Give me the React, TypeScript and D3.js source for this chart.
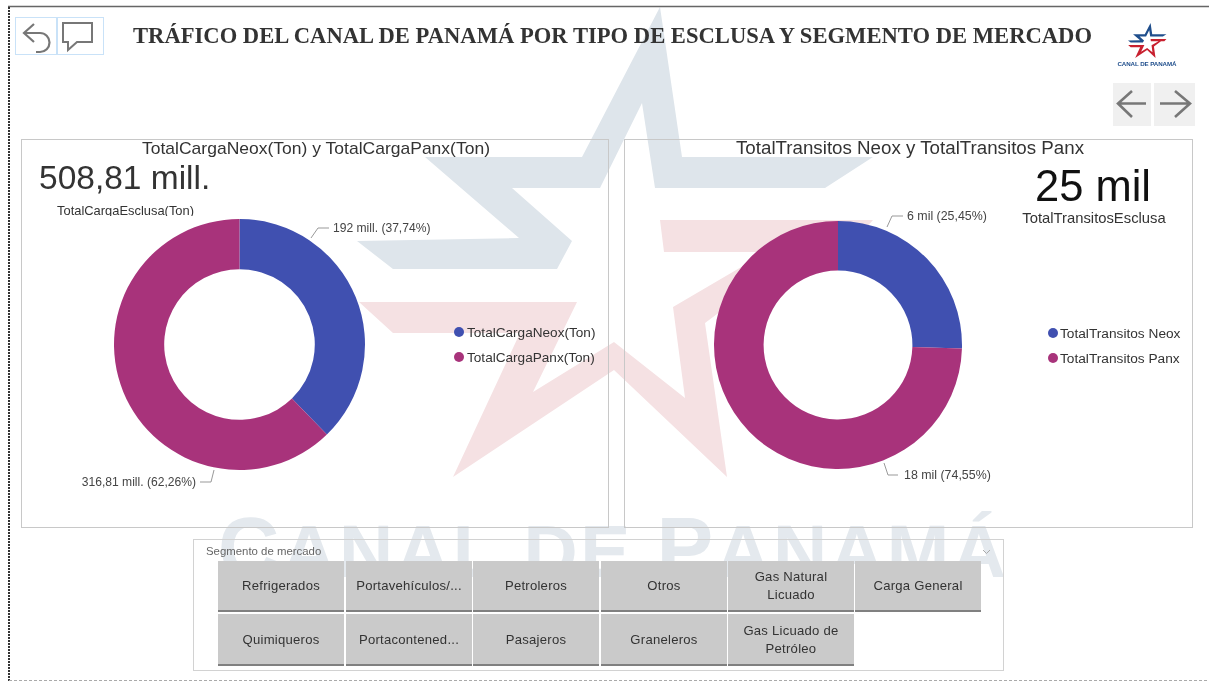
import React from "react";
import * as d3 from "d3";

const TITLE = "TRÁFICO DEL CANAL DE PANAMÁ POR TIPO DE ESCLUSA Y SEGMENTO DE MERCADO";
const cargaSeries = ["TotalCargaNeox(Ton)", "TotalCargaPanx(Ton)"];
const cargaPercent = [37.74, 62.26];
const cargaLabels = ["192 mill. (37,74%)", "316,81 mill. (62,26%)"];
const transitoSeries = ["TotalTransitos Neox", "TotalTransitos Panx"];
const transitoPercent = [25.45, 74.55];
const transitoLabels = ["6 mil (25,45%)", "18 mil (74,55%)"];
const segmentRow1 = ["Refrigerados", "Portavehículos/...", "Petroleros", "Otros", "Gas Natural|Licuado", "Carga General"];
const segmentRow2 = ["Quimiqueros", "Portacontened...", "Pasajeros", "Graneleros", "Gas Licuado de|Petróleo"];
const colors = ["#4050b0", "#a8337b"];

const starBlue: [number, number][] = [[660,7],[682,157],[873,157],[825,188],[655,188],[642,103],[600,188],[512,188],[572,241],[557,269],[393,269],[357,241],[519,238],[425,157],[582,157]];
const starRed: [number, number][] = [[660,220],[873,220],[845,252],[800,252],[705,323],[727,477],[614,370],[453,477],[520,333],[393,333],[359,302],[577,302],[533,392],[614,342],[685,398],[673,307],[767,252],[664,252]];

const SANS = "'Liberation Sans', Arial, sans-serif";
const SERIF = "'Liberation Serif', 'Times New Roman', serif";

const poly = (p: [number, number][]) => p.map(d => d.join(",")).join(" ");

function Donut({ cx, cy, r, values }: { cx: number; cy: number; r: number; values: number[] }) {
  const pie = d3.pie<number>().sort(null)(values);
  const arc = d3.arc<d3.PieArcDatum<number>>().innerRadius(r * 0.6).outerRadius(r);
  return (
    <g transform={`translate(${cx},${cy})`}>
      {pie.map((d, i) => <path key={i} d={arc(d) as string} fill={colors[i]} />)}
    </g>
  );
}

function Legend({ x, ys, tx, names, size }: { x: number; ys: number[]; tx: number; names: string[]; size: number }) {
  return (
    <g>
      {names.map((n, i) => (
        <g key={n}>
          <circle cx={x} cy={ys[i]} r={5} fill={colors[i]} />
          <text x={tx} y={ys[i] + 4.5} fontSize={size} fontFamily={SANS} fill="#333">{n}</text>
        </g>
      ))}
    </g>
  );
}

function Leader({ pts, label, x, y, size, anchor = "start" }: { pts: [number, number][]; label: string; x: number; y: number; size: number; anchor?: string }) {
  return (
    <g>
      <polyline points={poly(pts)} fill="none" stroke="#999" strokeWidth={1} />
      <text x={x} y={y + 4} fontSize={size} fontFamily={SANS} fill="#444" textAnchor={anchor as any}>{label}</text>
    </g>
  );
}

function Slicer() {
  const colX = [218, 346, 473, 601, 728, 855];
  const w = 126;
  const rows: [string[], number, number][] = [[segmentRow1, 561, 51], [segmentRow2, 614, 52]];
  return (
    <g>
      <rect x={193.5} y={539.5} width={810} height={131} fill="none" stroke="#d2d2d2" />
      <text x={206} y={555} fontSize={11.4} fontFamily={SANS} fill="#666">Segmento de mercado</text>
      <path d="M983 550 L986.5 553.5 L990 550" fill="none" stroke="#aaa" />
      {rows.map(([names, y, h]) => names.map((n, i) => {
        const lines = n.split("|");
        const cy = y + h / 2 - 1;
        return (
          <g key={n}>
            <rect x={colX[i]} y={y} width={w} height={h} fill="#cacaca" />
            <rect x={colX[i]} y={y + h - 2} width={w} height={2} fill="#808080" />
            {lines.map((l, j) => (
              <text key={l} x={colX[i] + w / 2} y={cy + 4.5 + (j - (lines.length - 1) / 2) * 18} textAnchor="middle"
                fontSize={13.1} letterSpacing={0.25} fontFamily={SANS} fill="#333">{l}</text>
            ))}
          </g>
        );
      }))}
    </g>
  );
}

export default function App() {
  return (
    <svg width={1209} height={681} viewBox="0 0 1209 681" style={{ position: "absolute", left: 0, top: 0, background: "#fff", filter: "blur(0.4px)" }}>
      <defs>
        <clipPath id="kpiClip"><rect x={40} y={200} width={170} height={16} /></clipPath>
      </defs>
      {/* watermark */}
      <polygon points={poly(starBlue)} fill="#dee5eb" />
      <polygon points={poly(starRed)} fill="#f5e1e3" />
      <text x={218} y={577} fontWeight="bold" fontFamily={SANS} fill="#e4e9ee" textLength={788} lengthAdjust="spacing">
        <tspan fontSize={85}>C</tspan><tspan fontSize={75}>ANAL DE </tspan><tspan fontSize={85}>P</tspan><tspan fontSize={75}>ANAMÁ</tspan>
      </text>

      {/* page frame */}
      <line x1={8} x2={1209} y1={6.5} y2={6.5} stroke="#666" strokeWidth={1.5} />
      <line x1={9} x2={9} y1={7} y2={681} stroke="#333" strokeWidth={2} strokeDasharray="2 1" />
      <line x1={9} x2={1209} y1={680.5} y2={680.5} stroke="#aaa" strokeWidth={1} strokeDasharray="3 2" />

      {/* icon buttons */}
      <rect x={15.5} y={17.5} width={41} height={37} fill="none" stroke="#c9e2f8" />
      <rect x={57.5} y={17.5} width={46} height={37} fill="none" stroke="#c9e2f8" />
      <path d="M34 24 L24 33 L34 42 M24 33 H40 A9.5 9.5 0 0 1 40 52 H36" fill="none" stroke="#777" strokeWidth={2.2} />
      <path d="M63 23 H92 V42 H77 L68 50 V42 H63 Z" fill="none" stroke="#777" strokeWidth={2} />

      <text x={133} y={43} fontSize={23} fontWeight="bold" fontFamily={SERIF} fill="#333" textLength={959} lengthAdjust="spacingAndGlyphs">{TITLE}</text>

      {/* logo */}
      <g transform="translate(1101.4,22.5) scale(0.0745)">
        <polygon points={poly(starBlue)} fill="#1f4e8c" />
        <polygon points={poly(starRed)} fill="#c8202f" />
      </g>
      <text x={1147} y={66} textAnchor="middle" fontSize={6.2} fontWeight="bold" fontFamily={SANS} fill="#1f4e8c" textLength={59} lengthAdjust="spacing">CANAL DE PANAMÁ</text>

      {/* nav arrows */}
      <rect x={1113} y={83} width={38} height={43} fill="#f0f0f0" />
      <rect x={1154} y={83} width={41} height={43} fill="#f0f0f0" />
      <path d="M1146 103.5 H1118 M1132 91 L1118 103.5 L1132 117" fill="none" stroke="#777" strokeWidth={2.6} />
      <path d="M1160 103.5 H1190 M1175 91 L1190 103.5 L1175 117" fill="none" stroke="#777" strokeWidth={2.6} />

      {/* panels */}
      <rect x={21.5} y={139.5} width={587} height={388} fill="none" stroke="#c8c8c8" />
      <rect x={624.5} y={139.5} width={568} height={388} fill="none" stroke="#c8c8c8" />

      <text x={142} y={154} fontSize={17} fontFamily={SANS} fill="#333" textLength={348} lengthAdjust="spacingAndGlyphs">TotalCargaNeox(Ton) y TotalCargaPanx(Ton)</text>
      <text x={736} y={154} fontSize={17.5} fontFamily={SANS} fill="#333" textLength={348} lengthAdjust="spacingAndGlyphs">TotalTransitos Neox y TotalTransitos Panx</text>

      <text x={39} y={189} fontSize={33.5} fontFamily={SANS} fill="#333">508,81 mill.</text>
      <g clipPath="url(#kpiClip)">
        <text x={57} y={215} fontSize={13} fontFamily={SANS} fill="#333" textLength={137} lengthAdjust="spacingAndGlyphs">TotalCargaEsclusa(Ton)</text>
      </g>
      <text x={1093} y={201} textAnchor="middle" fontSize={43.5} fontFamily={SANS} fill="#111">25 mil</text>
      <text x={1094} y={223} textAnchor="middle" fontSize={14.8} fontFamily={SANS} fill="#333">TotalTransitosEsclusa</text>

      <Donut cx={239.5} cy={344.5} r={125.5} values={cargaPercent} />
      <Donut cx={838} cy={345} r={124} values={transitoPercent} />

      <Leader pts={[[329, 228], [318, 228], [311, 238]]} label={cargaLabels[0]} x={333} y={228} size={12.1} />
      <Leader pts={[[200, 482], [211, 482], [214, 470]]} label={cargaLabels[1]} x={196} y={482} size={12.1} anchor="end" />
      <Leader pts={[[903, 216], [892, 216], [887, 227]]} label={transitoLabels[0]} x={907} y={216} size={12.4} />
      <Leader pts={[[898, 475], [888, 475], [884, 463]]} label={transitoLabels[1]} x={904} y={475} size={12.4} />

      <Legend x={459} ys={[332, 357]} tx={467} names={cargaSeries} size={13.6} />
      <Legend x={1053} ys={[333, 358]} tx={1060} names={transitoSeries} size={13.7} />

      <Slicer />
    </svg>
  );
}
